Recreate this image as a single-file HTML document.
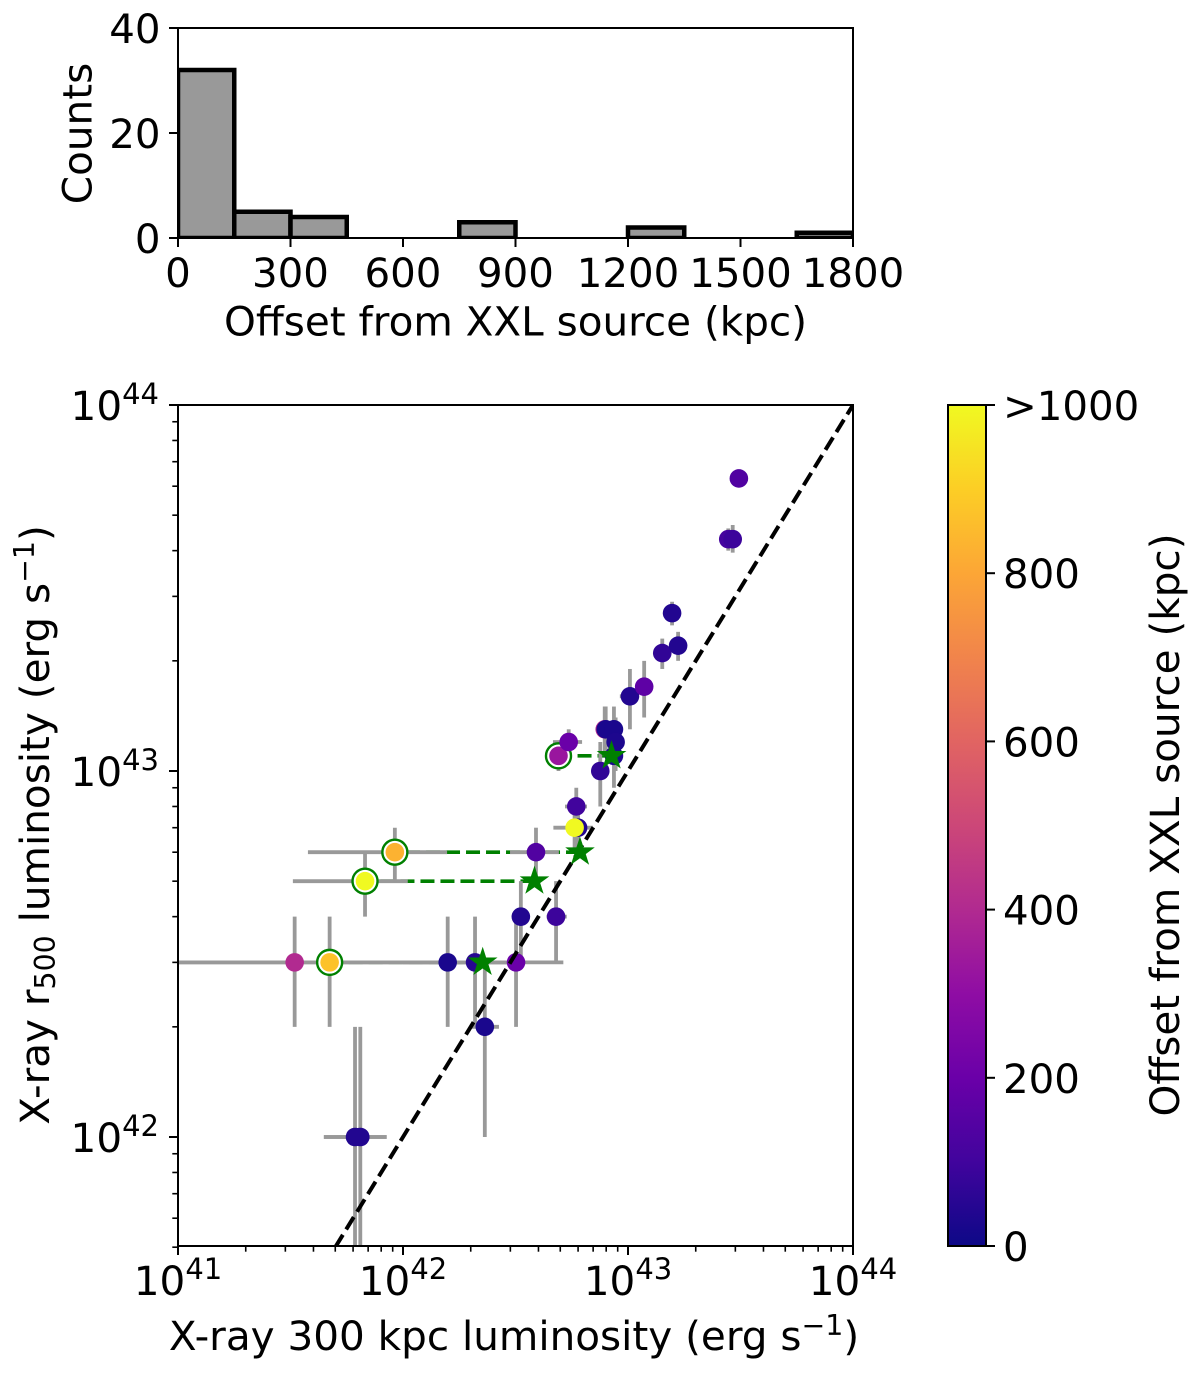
<!DOCTYPE html>
<html lang="en">
<head>
<meta charset="utf-8">
<title>X-ray luminosity comparison</title>
<style>
html,body{margin:0;padding:0;background:#fff;width:1200px;height:1374px;overflow:hidden}
svg{display:block}
text{font-family:"DejaVu Sans","Liberation Sans",sans-serif;fill:#000}
</style>
</head>
<body>
<svg id="figure" xmlns="http://www.w3.org/2000/svg" width="1200" height="1374" viewBox="0 0 1200 1374">
  <defs>
    <clipPath id="clip-main"><rect x="178" y="405" width="675" height="841"/></clipPath>
    <clipPath id="clip-hist"><rect x="178" y="28" width="675" height="210"/></clipPath>
    <linearGradient id="plasma" x1="0" y1="1" x2="0" y2="0">
      <stop offset="0" stop-color="#0d0887"/><stop offset="0.1" stop-color="#41049d"/>
      <stop offset="0.2" stop-color="#6a00a8"/><stop offset="0.3" stop-color="#8f0da4"/>
      <stop offset="0.4" stop-color="#b12a90"/><stop offset="0.5" stop-color="#cc4778"/>
      <stop offset="0.6" stop-color="#e16462"/><stop offset="0.7" stop-color="#f1844b"/>
      <stop offset="0.8" stop-color="#fca636"/><stop offset="0.9" stop-color="#fcce25"/>
      <stop offset="1" stop-color="#f0f921"/>
    </linearGradient>
  </defs>
  <g id="hist-layer"></g>
  <g id="main-layer"></g>
  <g id="cbar-layer"></g>

  <text x="515.5" y="335.5" font-size="40.5" text-anchor="middle">Offset from XXL source (kpc)</text>
  <text transform="translate(91.5,133.5) rotate(-90)" font-size="40.5" text-anchor="middle">Counts</text>
  <text x="514" y="1350" font-size="40.5" text-anchor="middle">X-ray 300 kpc luminosity (erg s<tspan font-size="28.4" dy="-15">−1</tspan><tspan dy="15">)</tspan></text>
  <text transform="translate(49,825) rotate(-90)" font-size="40.5" text-anchor="middle">X-ray r<tspan font-size="28.4" dy="6">500</tspan><tspan dy="-6"> luminosity (erg s</tspan><tspan font-size="28.4" dy="-15">−1</tspan><tspan dy="15">)</tspan></text>
  <text transform="translate(1179,825) rotate(-90)" font-size="40.5" text-anchor="middle">Offset from XXL source (kpc)</text>
</svg>
<script>
// ---------- histogram data ----------
const histBinStarts = [0, 150, 300, 450, 600, 750, 900, 1050, 1200, 1350, 1500, 1650];
const histCounts = [32, 5, 4, 0, 0, 3, 0, 0, 2, 0, 0, 1];
const histBinWidth = 150;
const histXTicks = [0, 300, 600, 900, 1200, 1500, 1800];
const histYTicks = [0, 20, 40];

// ---------- scatter data (luminosities in units of 1e42 erg/s) ----------
const pointNames = ['a','b','c','d','e','f','g','h','i','j','k','l','m','n','o','p','q','r','s','t','u','v','w','x','y','z','aa','ab','ac','ad','ae','af'];
const lumX   = [0.33, 0.472, 0.678, 0.92, 0.612, 0.646, 1.58, 2.09, 2.31, 3.18, 3.34, 3.9, 4.79, 4.91, 5.45, 6.0, 5.79, 5.89, 7.53, 7.88, 7.96, 8.66, 8.81, 8.66, 10.2, 11.8, 14.2, 16.7, 15.7, 27.9, 29.2, 31.1];
const lumY   = [3, 3, 5, 6, 1, 1, 3, 3, 2, 3, 4, 6, 4, 11, 12, 7, 7, 8, 10, 13, 13, 13, 12, 11, 16, 17, 21, 22, 27, 43, 43, 63];
const yLow   = [2, 2, 4, 5, 0.4, 0.4, 2, 2, 1, 2, 3, 5, 3, 10, 11, 6, 6, 7, 8, 11, 11, 11, 10, 9, 13, 14, 19, 20, 25, 40, 39.5, 63];
const yHigh  = [4, 4, 6, 7, 2, 2, 4, 4, 3, 4, 5, 7, 5, 12, 13, 8, 8, 9, 12, 15, 15, 15, 14, 13, 19, 20, 23, 24, 29, 46, 47, 63];
const xLow   = [0.05, 0.05, 0.324, 0.378, 0.445, 0.445, 1.0, 1.0, 1.98, 1.5, 3.2, 2.99, 4.35, 4.5, 4.64, 5.5, 4.66, 5.25, 7.3, 7.4, 7.6, 8.4, 8.4, 8.4, 9.2, 11.3, 13.6, 16.2, 15.1, 27, 28.5, 31.1];
const xHigh  = [1.0, 1.6, 1.05, 1.57, 0.846, 0.846, 3.0, 3.2, 2.67, 5.16, 3.5, 4.93, 5.34, 5.3, 6.25, 6.5, 6.98, 6.57, 7.8, 8.1, 8.3, 9, 9.2, 9, 11.2, 12.3, 14.8, 17.2, 16.3, 28.8, 29.9, 31.1];
const offsetKpc = [400, 870, 1000, 830, 40, 40, 25, 50, 25, 200, 40, 140, 90, 330, 200, 40, 1000, 100, 70, 400, 25, 25, 30, 30, 40, 170, 70, 40, 40, 110, 90, 140];

// optical-centre (green) re-measurements: ring = original, star = revised
const ringX = [0.472, 0.678, 0.92, 4.91];
const ringY = [3, 5, 6, 11];
const starX = [2.26, 3.84, 6.12, 8.45];
const starY = [3, 5, 6, 11];

// one-to-one line endpoints
const oneToOneX = [0.5, 100];
const oneToOneY = [0.5, 100];

// ---------- tick data ----------
const logXTickExponents = [41, 42, 43, 44];
const logYTickExponents = [42, 43, 44];
const colorbarTicks = [0, 200, 400, 600, 800, 1000];
const colorbarTickLabels = ['0', '200', '400', '600', '800', '>1000'];
const plasmaStops = ['#0d0887','#41049d','#6a00a8','#8f0da4','#b12a90','#cc4778','#e16462','#f1844b','#fca636','#fcce25','#f0f921'];

// ---------- axis functions ----------
const histX = v => 178 + v * 675 / 1800;
const histY = v => 238 - v * 210 / 40;
const mainX = v => 178 + (Math.log10(v) + 1) * 225;
const mainY = v => 1137 - Math.log10(v) * 366;
const cbarY = v => 1246 - v * 841 / 1000;

function plasma(kpc) {
  const t = Math.max(0, Math.min(1, kpc / 1000)) * (plasmaStops.length - 1);
  const i = Math.min(Math.floor(t), plasmaStops.length - 2);
  const f = t - i;
  const parse = h => [1, 3, 5].map(k => parseInt(h.substr(k, 2), 16));
  const a = parse(plasmaStops[i]), b = parse(plasmaStops[i + 1]);
  return 'rgb(' + a.map((c, k) => Math.round(c + (b[k] - c) * f)).join(',') + ')';
}

const NS = 'http://www.w3.org/2000/svg';
function make(parent, tag, attrs) {
  const el = document.createElementNS(NS, tag);
  for (const k in attrs) el.setAttribute(k, attrs[k]);
  parent.appendChild(el);
  return el;
}
function tickLine(parent, x1, y1, x2, y2, w) {
  const el = make(parent, 'line', {x1: x1, y1: y1, x2: x2, y2: y2, stroke: '#000', 'stroke-width': w});
  
  
  return el;
}
function spineRect(parent, x, y, w, h) {
  const el = make(parent, 'rect', {x: x, y: y, width: w, height: h, fill: 'none', stroke: '#000', 'stroke-width': 2});
  
  
  return el;
}
function label(parent, x, y, str, anchor) {
  const el = make(parent, 'text', {x: x, y: y, 'font-size': 40.3, 'text-anchor': anchor});
  el.textContent = str;
  
  
  return el;
}
function powerLabel(parent, x, y, exp, anchor) {
  const el = make(parent, 'text', {x: x, y: y, 'font-size': 40.5, 'text-anchor': anchor});
  el.appendChild(document.createTextNode('10'));
  const sup = make(el, 'tspan', {'font-size': 29, dy: -16});
  sup.textContent = String(exp);
  
  
  return el;
}

// ---------- histogram ----------
const histLayer = document.getElementById('hist-layer');
const histBars = make(histLayer, 'g', {'clip-path': 'url(#clip-hist)'});
histBinStarts.forEach((start, i) => {
  const r = make(histBars, 'rect', {
    x: histX(start), y: histY(histCounts[i]),
    width: histX(start + histBinWidth) - histX(start),
    height: histY(0) - histY(histCounts[i]),
    fill: '#999', stroke: '#000', 'stroke-width': 4.5
  });
  
  
});
spineRect(histLayer, 178, 28, 675, 210);
histXTicks.forEach(v => {
  tickLine(histLayer, histX(v), 238, histX(v), 247, 2);
  label(histLayer, histX(v), 287, String(v), 'middle');
});
histYTicks.forEach(v => {
  tickLine(histLayer, 169, histY(v), 178, histY(v), 2);
  label(histLayer, 160.5, histY(v) + 15, String(v), 'end');
});

// ---------- main scatter ----------
const mainLayer = document.getElementById('main-layer');
const plot = make(mainLayer, 'g', {'clip-path': 'url(#clip-main)'});
const greenDashes = make(plot, 'g', {});
ringX.forEach((v, i) => {
  const l = make(greenDashes, 'line', {
    x1: mainX(starX[i]), y1: mainY(starY[i]), x2: mainX(v), y2: mainY(ringY[i]),
    stroke: '#008000', 'stroke-width': 3.6, 'stroke-dasharray': '14 6'
  });
  
  
});
const bars = make(plot, 'g', {stroke: '#999', 'stroke-width': 3.8});
lumX.forEach((v, i) => {
  const h = make(bars, 'line', {x1: mainX(xLow[i]), x2: mainX(xHigh[i]), y1: mainY(lumY[i]), y2: mainY(lumY[i])});
  
  
  const w = make(bars, 'line', {x1: mainX(v), x2: mainX(v), y1: mainY(yLow[i]), y2: mainY(yHigh[i])});
  
  
});
ringX.forEach((v, i) => {
  const c = make(plot, 'circle', {cx: mainX(v), cy: mainY(ringY[i]), r: 12.5, fill: '#fff', stroke: '#008000', 'stroke-width': 2.4});
  
  
});
lumX.forEach((v, i) => {
  const c = make(plot, 'circle', {cx: mainX(v), cy: mainY(lumY[i]), r: 9.3, fill: plasma(offsetKpc[i])});
  
  
});
const oneToOne = make(plot, 'line', {
  x1: mainX(oneToOneX[0]), y1: mainY(oneToOneY[0]), x2: mainX(oneToOneX[1]), y2: mainY(oneToOneY[1]),
  stroke: '#000', 'stroke-width': 4, 'stroke-dasharray': '14.5 6.3'
});


starX.forEach((v, i) => {
  const cx = mainX(v), cy = mainY(starY[i]), pts = [];
  for (let k = 0; k < 10; k++) {
    const rad = k % 2 ? 5.4 : 14;
    const ang = -Math.PI / 2 + k * Math.PI / 5;
    pts.push((cx + rad * Math.cos(ang)).toFixed(1) + ',' + (cy + rad * Math.sin(ang)).toFixed(1));
  }
  const s = make(plot, 'polygon', {points: pts.join(' '), fill: '#008000', stroke: '#008000', 'stroke-width': 1});
  
  
});
spineRect(mainLayer, 178, 405, 675, 841);
logXTickExponents.forEach(e => {
  const base = Math.pow(10, e - 42);
  tickLine(mainLayer, mainX(base), 1246, mainX(base), 1255, 2);
  powerLabel(mainLayer, mainX(base), 1295, e, 'middle');
  if (e < 44) for (let m = 2; m < 10; m++) tickLine(mainLayer, mainX(base * m), 1246, mainX(base * m), 1251.7, 1.6);
});
logYTickExponents.forEach(e => {
  const base = Math.pow(10, e - 42);
  tickLine(mainLayer, 169, mainY(base), 178, mainY(base), 2);
  powerLabel(mainLayer, 159, mainY(base) + 15, e, 'end');
  if (e < 44) for (let m = 2; m < 10; m++) tickLine(mainLayer, 172.3, mainY(base * m), 178, mainY(base * m), 1.6);
});
for (let m = 5; m < 10; m++) tickLine(mainLayer, 172.3, mainY(m / 10), 178, mainY(m / 10), 1.6);

// ---------- colorbar ----------
const cbarLayer = document.getElementById('cbar-layer');
const cbarRect = make(cbarLayer, 'rect', {x: 948, y: 405, width: 38, height: 841, fill: 'url(#plasma)', stroke: '#000', 'stroke-width': 2});


colorbarTicks.forEach((v, i) => {
  tickLine(cbarLayer, 986, cbarY(v), 995, cbarY(v), 2);
  label(cbarLayer, 1003, cbarY(v) + 15, colorbarTickLabels[i], 'start');
});
</script>
</body>
</html>
